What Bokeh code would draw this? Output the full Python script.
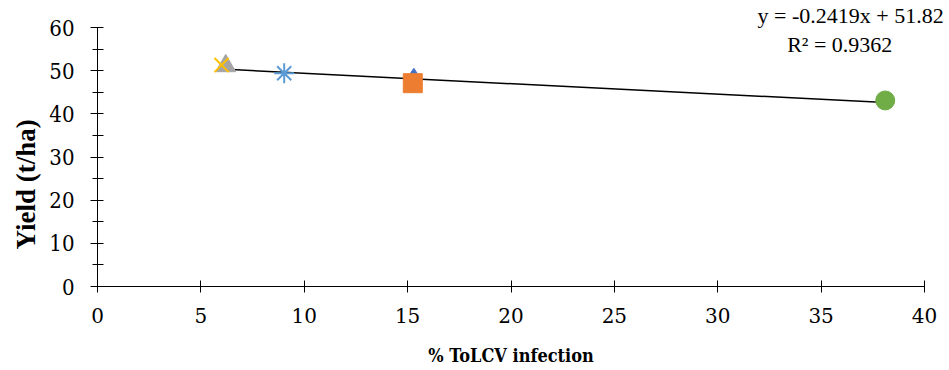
from bokeh.plotting import figure
from bokeh.models import Range1d, Label, FixedTicker, Title
from bokeh.embed import file_html
from bokeh.resources import INLINE

# Treatment points: % ToLCV infection vs. yield (t/ha)
diamond_x, diamond_y = [15.3], [48.0]
square_x, square_y = [15.25], [47.1]
triangle_x, triangle_y = [6.2], [51.1]
cross_x, cross_y = [6.0], [51.3]
star_x, star_y = [9.03], [49.4]
circle_x, circle_y = [38.1], [43.1]

# Linear trendline reported on the chart
slope = -0.2419
intercept = 51.82
r_squared = 0.9362

x_ticks = [0, 5, 10, 15, 20, 25, 30, 35, 40]
y_ticks = [0, 10, 20, 30, 40, 50, 60]
y_minor = [5, 15, 25, 35, 45, 55]

FONT = "'Liberation Serif'"
AXIS_FONT = "DejaVu Serif"
AXIS_FONT_C = "DejaVu Serif Condensed"

p = figure(width=949, height=370, output_backend="svg", toolbar_location=None,
           x_range=Range1d(0, 40), y_range=Range1d(0, 60),
           min_border_left=97, min_border_right=25, min_border_top=0, min_border_bottom=84)
p.outline_line_color = None
p.xgrid.visible = False
p.ygrid.visible = False
p.background_fill_color = "white"
p.border_fill_color = "white"

# x axis
p.xaxis.ticker = FixedTicker(ticks=x_ticks)
p.xaxis.major_tick_in = 6
p.xaxis.major_tick_out = 6
p.xaxis.minor_tick_line_color = None
p.xaxis.axis_line_color = "black"
p.xaxis.major_tick_line_color = "black"
p.xaxis.major_label_text_font = AXIS_FONT
p.xaxis.major_label_text_font_size = "20px"
p.xaxis.major_label_text_color = "black"
p.xaxis.major_label_standoff = 15
p.xaxis.axis_label = "% ToLCV infection"
p.xaxis.axis_label_text_font = AXIS_FONT_C
p.xaxis.axis_label_text_font_size = "18px"
p.xaxis.axis_label_text_font_style = "bold"
p.xaxis.axis_label_text_color = "black"
p.xaxis.axis_label_standoff = 19

# y axis
p.yaxis.ticker = FixedTicker(ticks=y_ticks, minor_ticks=y_minor)
p.yaxis.major_tick_in = 6
p.yaxis.major_tick_out = 7
p.yaxis.minor_tick_in = 6
p.yaxis.minor_tick_out = 5
p.yaxis.axis_line_color = "black"
p.yaxis.major_tick_line_color = "black"
p.yaxis.minor_tick_line_color = "black"
p.yaxis.major_label_text_font = AXIS_FONT_C
p.yaxis.major_label_text_font_size = "22px"
p.yaxis.major_label_text_color = "black"
p.yaxis.major_label_standoff = 16

# y title, set in the left panel beside the tick labels
p.add_layout(Title(text="Yield (t/ha)", align="left", offset=37,
                   text_font=FONT, text_font_size="27px", text_font_style="bold",
                   text_color="black", standoff=12), "left")

# trendline across the observed infection range
xs_all = diamond_x + square_x + triangle_x + cross_x + star_x + circle_x
x0, x1 = min(xs_all), max(xs_all)
p.line([x0, x1], [slope * x0 + intercept, slope * x1 + intercept],
       line_color="black", line_width=1.5)

# markers, drawn in series order
p.scatter(diamond_x, diamond_y, marker="diamond", size=22, fill_color="#4472C4", line_color="#4472C4")
p.scatter(square_x, square_y, marker="square", size=19, fill_color="#ED7D31", line_color="#ED7D31")
p.scatter(triangle_x, triangle_y, marker="triangle", size=20, fill_color="#A5A5A5", line_color="#A5A5A5")
p.scatter(cross_x, cross_y, marker="x", size=20, line_color="#FFC000", line_width=2)
p.scatter(star_x, star_y, marker="asterisk", size=20, line_color="#5B9BD5", line_width=2)
p.scatter(circle_x, circle_y, marker="circle", size=19, fill_color="#70AD47", line_color="#70AD47")

# equation annotation: first line above the frame, second inside it
sign = "+" if intercept >= 0 else "-"
eq = f"y = {slope:.4f}x {sign} {abs(intercept):.2f}"
p.add_layout(Title(text=eq, align="left", offset=660, text_font=FONT, text_font_size="22px",
                   text_font_style="normal", text_color="black", standoff=0), "above")
p.add_layout(Label(x=35.9, y=56.0, text=f"R² = {r_squared:.4f}", text_align="center",
                   text_baseline="alphabetic", text_font=FONT, text_font_size="22px", text_color="black"))

open("out.html", "w").write(file_html(p, INLINE))
